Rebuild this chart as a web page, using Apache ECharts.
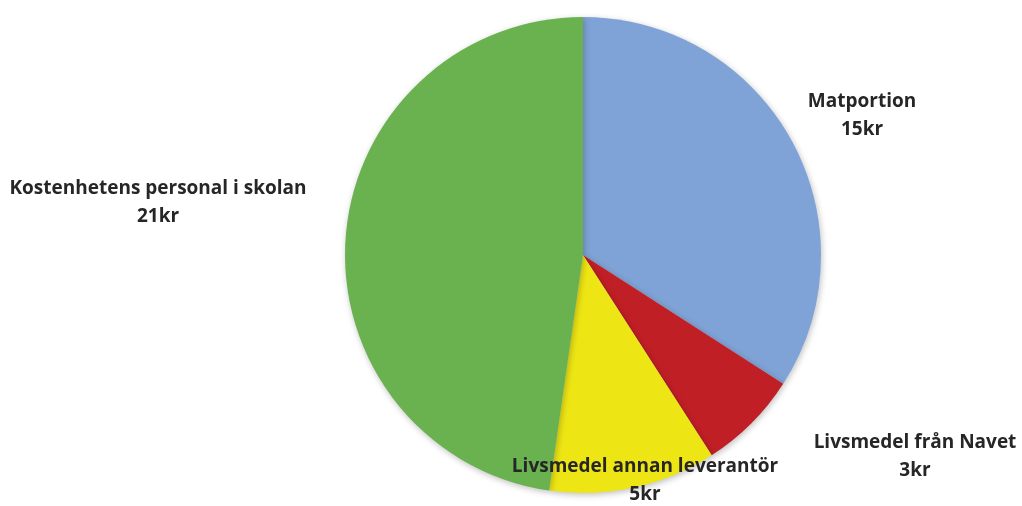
<!DOCTYPE html>
<html>
<head>
<meta charset="utf-8">
<script src="https://cdn.jsdelivr.net/npm/echarts@6/dist/echarts.min.js"></script>
<style>
  html, body { margin: 0; padding: 0; background: #fff; }
  #chart { width: 1022px; height: 506px; }
</style>
</head>
<body>
<div id="chart"></div>
<script>
// Cost per portion, split by component (kr)
const categories = ['Matportion', 'Livsmedel från Navet', 'Livsmedel annan leverantör', 'Kostenhetens personal i skolan'];
const values = [15, 3, 5, 21];
const unit = 'kr';

const colors = ['#7FA3D6', '#C11F26', '#EEE614', '#6AB14F'];
// label centre points (first line) for each slice
const labelSpots = [[862, 102], [915, 443], [645, 467], [158, 189]];

const chart = echarts.init(document.getElementById('chart'), null, { renderer: 'canvas' });
chart.setOption({
  animation: false,
  series: [{
    type: 'pie',
    center: [583, 255],
    radius: [0, 238],
    startAngle: 90,
    clockwise: true,
    data: categories.map((name, i) => ({ name, value: values[i], itemStyle: { color: colors[i] } })),
    itemStyle: {
      shadowBlur: 6,
      shadowColor: 'rgba(0,0,0,0.25)',
      shadowOffsetX: 1,
      shadowOffsetY: 2
    },
    label: {
      show: true,
      position: 'outside',
      formatter: p => p.name + '\n' + p.value + unit,
      fontFamily: 'Open Sans',
      fontWeight: 'bold',
      fontSize: 19,
      lineHeight: 28,
      color: '#262626',
      align: 'center',
      overflow: 'none'
    },
    labelLine: { show: false },
    labelLayout: p => ({
      x: labelSpots[p.dataIndex][0],
      y: labelSpots[p.dataIndex][1] + 14,
      align: 'center',
      verticalAlign: 'middle',
      hideOverlap: false
    }),
    emphasis: { disabled: true }
  }]
});
</script>
</body>
</html>
